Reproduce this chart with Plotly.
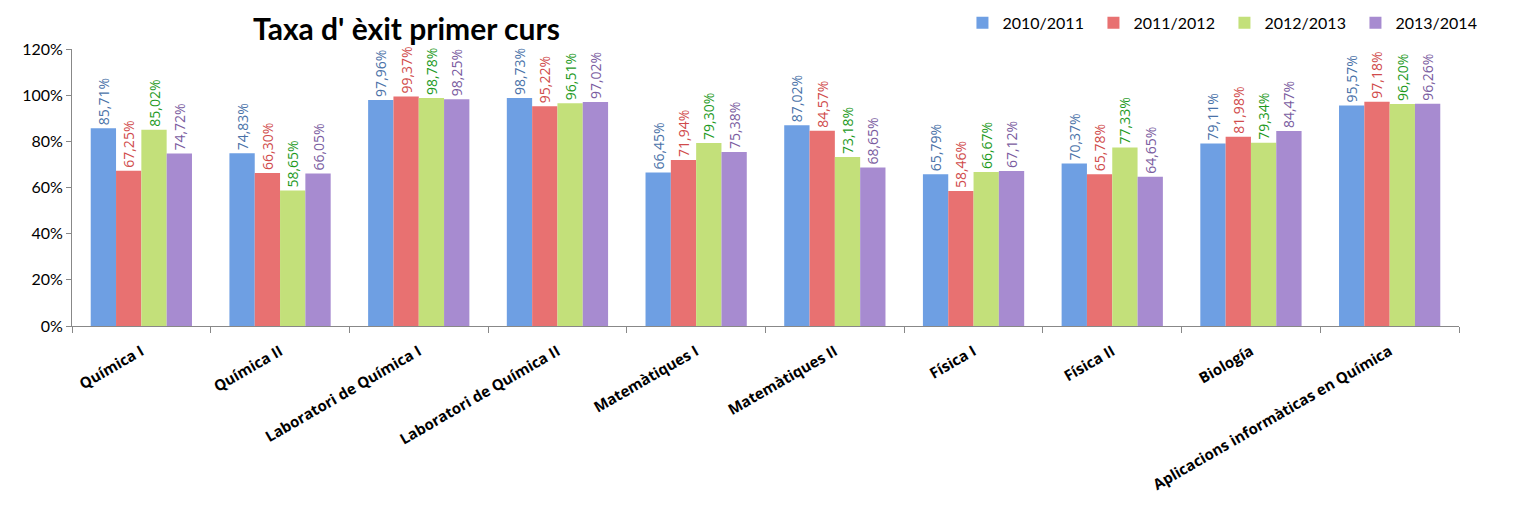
import plotly.graph_objects as go

categories = ["Química I", "Química II", "Laboratori de Química I", "Laboratori de Química II",
              "Matemàtiques I", "Matemàtiques II", "Física I", "Física II", "Biología",
              "Aplicacions informàticas en Química"]
series_names = ["2010/2011", "2011/2012", "2012/2013", "2013/2014"]
s2010 = [85.71, 74.83, 97.96, 98.73, 66.45, 87.02, 65.79, 70.37, 79.11, 95.57]
s2011 = [67.25, 66.30, 99.37, 95.22, 71.94, 84.57, 58.46, 65.78, 81.98, 97.18]
s2012 = [85.02, 58.65, 98.78, 96.51, 79.30, 73.18, 66.67, 77.33, 79.34, 96.20]
s2013 = [74.72, 66.05, 98.25, 97.02, 75.38, 68.65, 67.12, 64.65, 84.47, 96.26]
y_ticks = [0, 0.2, 0.4, 0.6, 0.8, 1.0, 1.2]

bar_colors = ["#6E9FE3", "#E87171", "#C3E07A", "#A78BD0"]
text_colors = ["#4A72A8", "#D04B4B", "#1E9A1E", "#7A5CA0"]

FONT = "Lato, 'Open Sans', sans-serif"
LABEL_FONT = "'Open Sans', Lato, sans-serif"

fig = go.Figure()
for name, vals, bc, tc in zip(series_names, [s2010, s2011, s2012, s2013], bar_colors, text_colors):
    fig.add_trace(go.Bar(
        x=categories, y=[v / 100 for v in vals], name=name,
        marker=dict(color=bc, line=dict(width=0)),
        texttemplate="%{y:.2%}", textposition="outside", textangle=-90,
        constraintext="none",
        textfont=dict(color=tc, size=14, family=LABEL_FONT),
        cliponaxis=False,
    ))

# page body has an 8px margin: figure is sized/offset to compensate
fig.update_layout(
    width=1519, height=507,
    margin=dict(l=64, r=68, t=41, b=189, autoexpand=False),
    paper_bgcolor="white", plot_bgcolor="white",
    separators=",.",
    barmode="group", bargap=0.27, bargroupgap=0,
    font=dict(family=FONT, color="#000000"),
    showlegend=True,
    legend=dict(orientation="h", x=0.642, xanchor="left", y=1.094, yanchor="middle",
                font=dict(size=16, family=FONT), traceorder="normal",
                itemwidth=30, entrywidth=86, bgcolor="rgba(0,0,0,0)"),
    annotations=[dict(text="<b>Taxa d' èxit primer curs</b>", xref="paper", yref="paper",
                      x=0.2415, y=1.148, xanchor="center", yanchor="top",
                      showarrow=False, font=dict(size=30, family=FONT, color="#000"))],
)
fig.update_xaxes(showline=True, linecolor="#888888", linewidth=1, ticks="outside",
                 tickson="boundaries", tickcolor="#888888", ticklen=6,
                 tickangle=-30, automargin=False, ticklabelstandoff=10,
                 tickfont=dict(size=15, family="'Open Sans', sans-serif", color="#000", weight="bold"),
                 showgrid=False)
fig.update_yaxes(range=[0, 1.2], tickvals=y_ticks, tickformat=".0%", showline=True,
                 linecolor="#888888", linewidth=1, ticks="outside", tickcolor="#888888",
                 ticklen=5, tickfont=dict(size=16, family=FONT, color="#000"), automargin=False,
                 showgrid=False, zeroline=False)

fig.write_html("out.html")
